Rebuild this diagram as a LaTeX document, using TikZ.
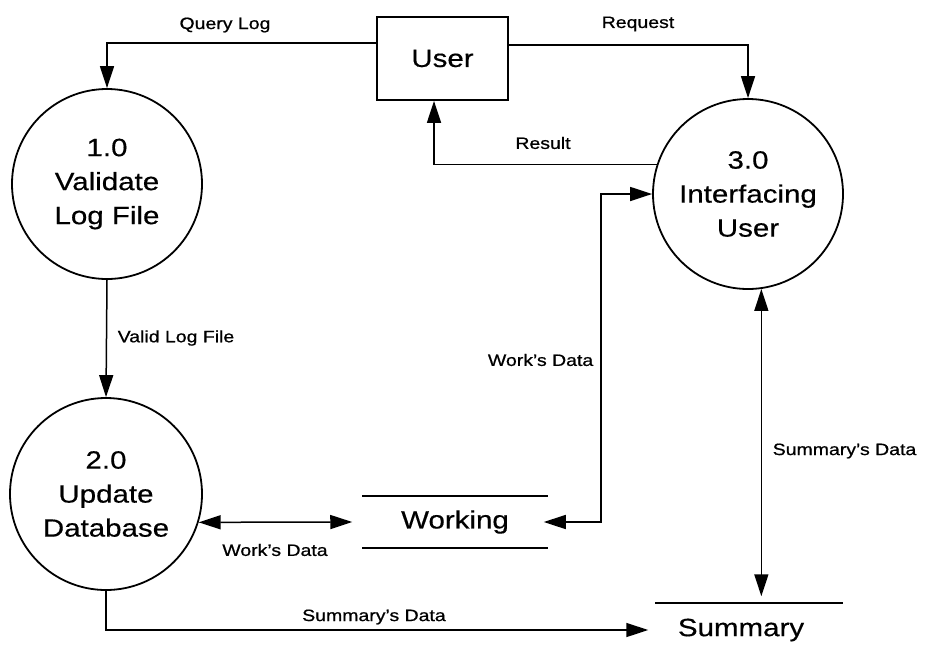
\documentclass[tikz,border=0pt]{standalone}
\usepackage{graphicx}
\usepackage{fontspec}
\setmainfont[FakeBold=0.4]{Liberation Sans}
\newfontfamily\lblfont[FakeBold=0.7]{Liberation Sans}
\usetikzlibrary{arrows.meta}

% Slightly widened lettering used throughout the diagram
\newcommand{\wide}[1]{\scalebox{1.18}[1]{#1}}

\begin{document}
\begin{tikzpicture}[x=1pt,y=-1pt,
  line width=1.5pt,
  proc/.style={circle,draw,line width=1.8pt,minimum size=190pt,inner sep=0pt,
               align=center,font=\fontsize{25}{34}\selectfont},
  entity/.style={rectangle,draw,line width=1.8pt,minimum width=131pt,minimum height=83pt,
               font=\fontsize{25}{30}\selectfont},
  store/.style={inner sep=0pt,font=\fontsize{25}{30}\selectfont},
  lbl/.style={inner sep=0pt,font=\lblfont\fontsize{16.5}{20}\selectfont},
  flow/.style={-{Triangle[length=22pt,width=14pt]}},
  flowboth/.style={{Triangle[length=22pt,width=14pt]}-{Triangle[length=22pt,width=14pt]}}]

\useasboundingbox (0,0) rectangle (925,654);

% processes and external entity
\node[proc] (p1) at (107,184) {\wide{1.0}\\\wide{Validate}\\\wide{Log File}};
\node[proc,minimum size=192pt] (p2) at (106,494) {\wide{2.0}\\\wide{Update}\\\wide{Database}};
\node[proc] (p3) at (748,194) {\wide{3.0}\\\wide{Interfacing}\\\wide{User}};
\node[entity] (user) at (442.5,58.5) {\wide{User}};

% data stores
\node[store,minimum width=184pt,minimum height=51pt] (work) at (455,522) {\wide{Working}};
\draw[line width=2pt] (work.north west) -- (work.north east);
\draw[line width=2pt] (work.south west) -- (work.south east);

\node[store,minimum width=170pt,minimum height=52pt] (summ) at (741,630) {\wide{Summary}};
\draw[line width=2pt] (summ.north west) -- ([xshift=16pt]summ.north east);

% data flows
\draw[flow] ([yshift=15.5pt]user.west) -| (p1.north);
\draw[flow] ([yshift=13.5pt]user.east) -| (p3.north);
\draw[flow] (p3.162) -| ([xshift=-8.5pt]user.south);
\draw[flow] (p1.south) -- (p2.north);
\draw[flowboth] ([xshift=-4pt]work.east) -- ++(57,0) |- (p3.west);
\draw[flowboth] (p2.-17) -- ([xshift=-10pt]work.west);
\coordinate (sd) at (p3.-82);
\draw[flowboth,shorten >=7pt] (sd) -- (sd |- summ.north);
\draw[flow] (p2.south) |- ([xshift=-7pt]summ.west);

% flow labels
\node[lbl] (lq) at (225,25) {\wide{Query Log}};
\node[lbl] (lr) at (638,24) {\wide{Request}};
\node[lbl] (lres) at (543,143) {\wide{Result}};
\node[lbl,anchor=west] (lv) at (117,338) {\wide{Valid Log File}};
\node[lbl,anchor=east] (lw1) at (594,360) {\wide{Work’s Data}};
\node[lbl,anchor=west] (ls1) at (772,451) {\wide{Summary’s Data}};
\node[lbl] (lw2) at (275,550) {\wide{Work’s Data}};
\node[lbl] (ls2) at (374,617) {\wide{Summary’s Data}};
\end{tikzpicture}
\end{document}
